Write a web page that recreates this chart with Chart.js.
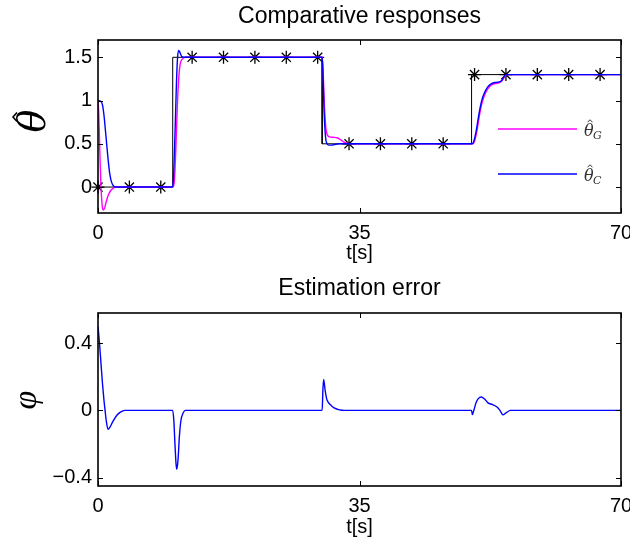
<!DOCTYPE html>
<html><head><meta charset="utf-8">
<script src="https://cdn.jsdelivr.net/npm/chart.js@4"></script>
<style>
html,body{margin:0;padding:0;background:#fff;overflow:hidden;width:630px;height:551px}
#c1{position:absolute;left:0;top:0}
#c2{position:absolute;left:0;top:275px}
</style></head><body>
<canvas id="c1" width="630" height="275"></canvas>
<canvas id="c2" width="630" height="276"></canvas>
<script>
// ---------- data ----------
const xTicks = [0, 35, 70];
const topYTicks = [0, 0.5, 1, 1.5];
const botYTicks = [-0.4, 0, 0.4];

// reference (black step)
const refT = [0, 10, 10, 30, 30, 50, 50, 70];
const refV = [0, 0, 1.5, 1.5, 0.5, 0.5, 1.3, 1.3];

// sampled reference (asterisks)
const sampleT = [0, 4.2, 8.4, 12.6, 16.8, 21, 25.2, 29.4, 33.6, 37.8, 42, 46.2, 50.4, 54.6, 58.8, 63, 67.2];
const sampleV = [0, 0, 0, 1.5, 1.5, 1.5, 1.5, 1.5, 0.5, 0.5, 0.5, 0.5, 1.3, 1.3, 1.3, 1.3, 1.3];

// theta_G (magenta)
const gT = [0, 0.1, 0.2, 0.3, 0.4, 0.5, 0.6, 0.72, 0.9, 1.1, 1.4, 1.7, 2.0, 2.4,
  10.0, 10.2, 10.4, 10.6, 10.8, 11.0, 11.3, 11.7,
  30.0, 30.1, 30.3, 30.5, 30.7, 31.0, 31.5, 32.0, 32.5, 33.0, 33.5, 34.0,
  50.15, 50.4, 50.7, 51.0, 51.3, 51.6, 52.0, 52.4, 52.9, 53.4, 53.8, 54.1, 54.4, 54.7, 70];
const gV = [1.0, 0.85, 0.55, 0.25, 0.0, -0.15, -0.24, -0.265, -0.24, -0.17, -0.09, -0.04, -0.015, 0,
  0, 0.05, 0.4, 0.9, 1.25, 1.42, 1.48, 1.5,
  1.5, 1.4, 0.95, 0.68, 0.6, 0.58, 0.575, 0.57, 0.545, 0.515, 0.503, 0.5,
  0.5, 0.53, 0.64, 0.8, 0.94, 1.03, 1.11, 1.16, 1.19, 1.2, 1.21, 1.23, 1.27, 1.3, 1.3];

// theta_C (blue)
const cT = [0, 0.4, 0.6, 0.8, 1.0, 1.2, 1.4, 1.6, 1.8, 2.1, 2.4,
  10.0, 10.1, 10.3, 10.5, 10.65, 10.8, 10.95, 11.2, 11.6,
  30.0, 30.1, 30.25, 30.45, 30.65, 30.9, 31.3, 31.8, 32.3,
  50.1, 50.3, 50.6, 50.9, 51.2, 51.5, 51.9, 52.3, 52.8, 53.3, 53.7, 54.0, 54.3, 54.6, 70];
const cV = [1.0, 0.99, 0.95, 0.83, 0.65, 0.46, 0.28, 0.14, 0.06, 0.01, 0,
  0, 0.1, 0.6, 1.2, 1.5, 1.58, 1.56, 1.51, 1.5,
  1.5, 1.35, 0.9, 0.58, 0.5, 0.485, 0.485, 0.495, 0.5,
  0.5, 0.53, 0.64, 0.8, 0.94, 1.04, 1.12, 1.17, 1.2, 1.21, 1.215, 1.23, 1.27, 1.3, 1.3];

// estimation error (blue)
const errT = [0, 0.2, 0.4, 0.6, 0.8, 0.95, 1.1, 1.35, 1.6, 2.0, 2.5, 3.0, 3.6,
  10.0, 10.15, 10.3, 10.45, 10.55, 10.7, 10.9, 11.1, 11.4, 11.7,
  30.0, 30.1, 30.2, 30.4, 30.6, 30.8, 31.2, 31.6, 32.2, 33.0,
  50.0, 50.1, 50.3, 50.6, 50.9, 51.3, 51.7, 52.2, 52.8, 53.4, 53.8, 54.2, 54.6, 55.2, 70];
const errV = [0.5, 0.4, 0.28, 0.16, 0.06, 0.0, -0.06, -0.113, -0.1, -0.065, -0.03, -0.01, 0,
  0, -0.06, -0.2, -0.32, -0.35, -0.3, -0.15, -0.06, -0.015, 0,
  0, 0.12, 0.185, 0.12, 0.07, 0.05, 0.03, 0.015, 0.005, 0,
  0, -0.025, 0, 0.045, 0.07, 0.08, 0.07, 0.045, 0.035, 0.02, 0, -0.026, -0.015, 0, 0];

// ---------- helpers ----------
const pts = (t, v) => t.map((x, i) => ({x: x, y: v[i]}));
const fmt = v => (v < 0 ? '\u2212' + Math.abs(v) : String(v));
const TICKFONT = {family: '"Liberation Sans", Arial, sans-serif', size: 20};

// draws a hat (circumflex) centred at (cx, cy)
function hat(ctx, cx, cy, w, h, lw) {
  ctx.save();
  ctx.lineWidth = lw;
  ctx.lineJoin = 'miter';
  ctx.beginPath();
  ctx.moveTo(cx - w / 2, cy + h / 2);
  ctx.lineTo(cx, cy - h / 2);
  ctx.lineTo(cx + w / 2, cy + h / 2);
  ctx.stroke();
  ctx.restore();
}

const framePlugin = {
  id: 'frame',
  afterDatasetsDraw(chart, args, o) {
    const ctx = chart.ctx, a = chart.chartArea, sx = chart.scales.x, sy = chart.scales.y;
    ctx.save();
    ctx.strokeStyle = '#000';
    ctx.lineWidth = 1.6;
    ctx.strokeRect(a.left, a.top, a.right - a.left, a.bottom - a.top);
    ctx.lineWidth = 1;
    const L = 5;
    ctx.beginPath();
    o.xt.forEach(v => { const x = Math.round(sx.getPixelForValue(v)) + 0.5;
      ctx.moveTo(x, a.bottom); ctx.lineTo(x, a.bottom - L);
      ctx.moveTo(x, a.top); ctx.lineTo(x, a.top + L); });
    o.yt.forEach(v => { const y = Math.round(sy.getPixelForValue(v)) + 0.5;
      ctx.moveTo(a.left, y); ctx.lineTo(a.left + L, y);
      ctx.moveTo(a.right, y); ctx.lineTo(a.right - L, y); });
    ctx.stroke();
    // title
    ctx.fillStyle = '#000';
    ctx.textAlign = 'center';
    ctx.textBaseline = 'alphabetic';
    ctx.font = '23px "Liberation Sans", Arial, sans-serif';
    ctx.fillText(o.title, (a.left + a.right) / 2, o.titleY);
    ctx.font = '20px "Liberation Sans", Arial, sans-serif';
    ctx.fillText('t[s]', sx.getPixelForValue(35), o.xlabY);
    // y label (rotated)
    ctx.save();
    ctx.translate(o.ylabX, o.ylabY);
    ctx.rotate(-Math.PI / 2);
    ctx.font = o.ylabFont;
    ctx.textBaseline = 'middle';
    ctx.fillText(o.ylab, 0, 0);
    if (o.ylabHat) { ctx.strokeStyle = '#000'; hat(ctx, 4, -20, 9, 4, 1.6); }
    ctx.restore();
    // legend
    if (o.legend) {
      o.legend.forEach(it => {
        ctx.strokeStyle = it.color; ctx.lineWidth = 1.5;
        ctx.beginPath(); ctx.moveTo(498, it.y); ctx.lineTo(577, it.y); ctx.stroke();
        ctx.fillStyle = '#333';
        ctx.strokeStyle = '#333';
        ctx.textAlign = 'left';
        ctx.font = 'italic 16px "DejaVu Serif", serif';
        ctx.fillText('\u03B8', 584, it.y + 7);
        hat(ctx, 590, it.y - 8, 5, 2.5, 1);
        ctx.font = 'italic 11px "DejaVu Serif", serif';
        ctx.fillText(it.sub, 593, it.y + 10);
      });
    }
    ctx.restore();
  }
};

function makeScales(ymin, ymax, yTicks, xH) {
  return {
    x: {
      type: 'linear', min: 0, max: 70,
      grid: {display: false, drawTicks: false}, border: {display: false},
      ticks: {font: TICKFONT, color: '#000', padding: 8, maxRotation: 0, autoSkip: false},
      afterBuildTicks: s => { s.ticks = xTicks.map(v => ({value: v})); },
      afterFit: s => { s.height = xH; s.paddingLeft = 0; s.paddingRight = 0; }
    },
    y: {
      type: 'linear', min: ymin, max: ymax,
      grid: {display: false, drawTicks: false}, border: {display: false},
      ticks: {font: TICKFONT, color: '#000', padding: 6, callback: v => fmt(v)},
      afterBuildTicks: s => { s.ticks = yTicks.map(v => ({value: v})); },
      afterFit: s => { s.width = 98; s.paddingTop = 0; s.paddingBottom = 0; }
    }
  };
}

const lineDs = (data, color, w) => ({
  data: data, borderColor: color, borderWidth: w, pointRadius: 0, fill: false,
  cubicInterpolationMode: 'monotone'
});

new Chart(document.getElementById('c1'), {
  type: 'line',
  data: {
    datasets: [
      lineDs(pts(cT, cV), '#0000ff', 1.4),
      lineDs(pts(gT, gV), '#ff00ff', 1.4),
      {data: pts(sampleT, sampleV), showLine: false, pointStyle: 'star', pointRadius: 6.5,
       borderColor: '#000', backgroundColor: '#000', pointBorderWidth: 1.3, clip: false},
      {data: pts(refT, refV), borderColor: '#000', borderWidth: 1, pointRadius: 0, tension: 0}
    ]
  },
  options: {
    responsive: false, animation: false, devicePixelRatio: 1, events: [],
    layout: {padding: {top: 40, left: 0, right: 9, bottom: 0}},
    scales: makeScales(-0.3, 1.7, topYTicks, 62),
    plugins: {
      legend: {display: false}, tooltip: {enabled: false},
      frame: {xt: xTicks, yt: topYTicks, title: 'Comparative responses', titleY: 23, xlabY: 259,
        ylab: '\u03B8', ylabHat: true, ylabX: 35, ylabY: 121, ylabFont: 'italic 38px "DejaVu Serif", serif',
        legend: [{color: '#ff00ff', y: 129, sub: 'G'}, {color: '#0000ff', y: 174, sub: 'C'}]}
    }
  },
  plugins: [framePlugin]
});

new Chart(document.getElementById('c2'), {
  type: 'line',
  data: {
    datasets: [lineDs(pts(errT, errV), '#0000ff', 1.4)]
  },
  options: {
    responsive: false, animation: false, devicePixelRatio: 1, events: [],
    layout: {padding: {top: 38, left: 0, right: 9, bottom: 0}},
    scales: makeScales(-0.45, 0.58, botYTicks, 65),
    plugins: {
      legend: {display: false}, tooltip: {enabled: false},
      frame: {xt: xTicks, yt: botYTicks, title: 'Estimation error', titleY: 20, xlabY: 258,
        ylab: '\u03C6', ylabX: 27, ylabY: 125, ylabFont: 'italic 34px "Liberation Serif", serif'}
    }
  },
  plugins: [framePlugin]
});
</script>
</body></html>
